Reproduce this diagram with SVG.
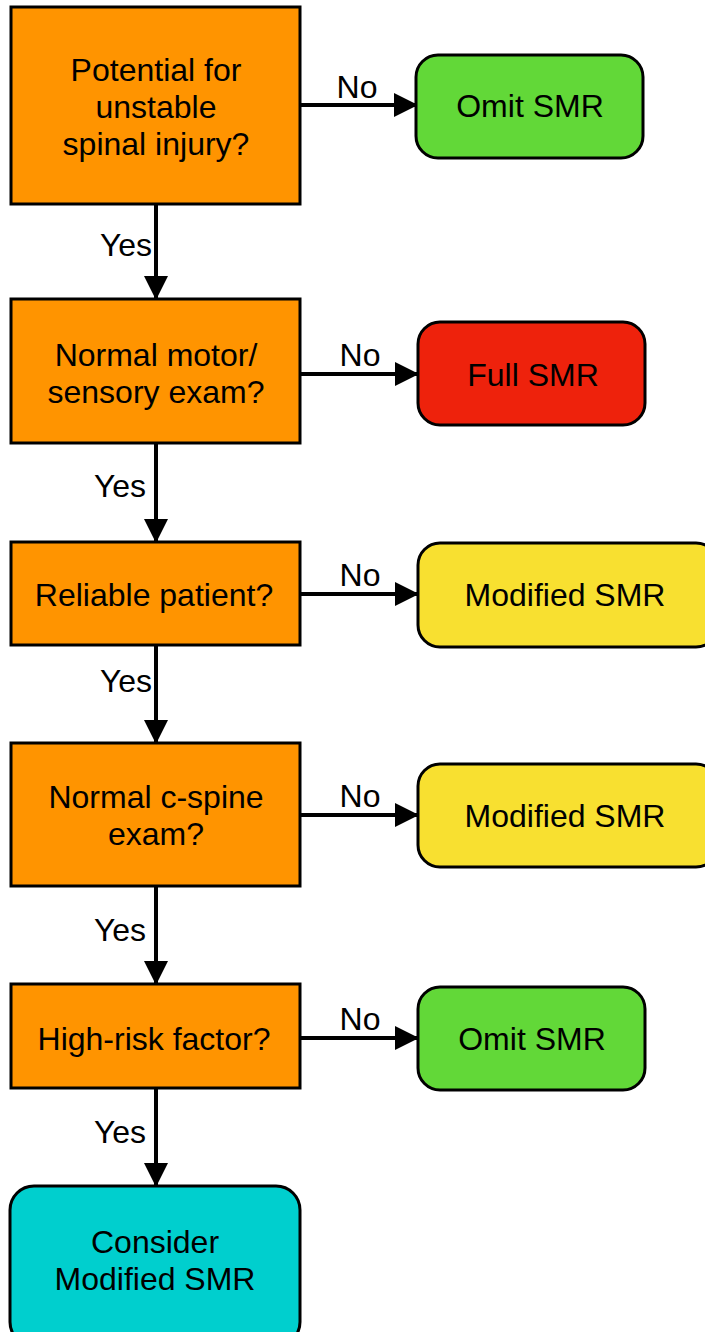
<svg xmlns="http://www.w3.org/2000/svg" width="705" height="1332" viewBox="0 0 705 1332">
<style>
.box{stroke:#000;stroke-width:3}
.q{fill:#FF9400}
.green{fill:#62D838}
.red{fill:#EE220C}
.yellow{fill:#F8E030}
.cyan{fill:#00CFCE}
text{font-family:"Liberation Sans",Arial,sans-serif;font-size:32px;fill:#000;text-anchor:middle}
.conn line{stroke:#000;stroke-width:4}
</style>
<defs>
<marker id="ah" markerWidth="6" markerHeight="6" refX="5.5" refY="3" orient="auto" markerUnits="strokeWidth" viewBox="0 0 6 6">
<path d="M0,0 L6,3 L0,6 Z" fill="#000"/>
</marker>
</defs>
<rect width="705" height="1332" fill="#fff"/>
<g class="conn">
<line x1="300" y1="105" x2="416" y2="105" marker-end="url(#ah)"/>
<line x1="300" y1="374" x2="417" y2="374" marker-end="url(#ah)"/>
<line x1="300" y1="594" x2="417" y2="594" marker-end="url(#ah)"/>
<line x1="300" y1="815" x2="417" y2="815" marker-end="url(#ah)"/>
<line x1="300" y1="1038" x2="417" y2="1038" marker-end="url(#ah)"/>
<line x1="156" y1="204" x2="156" y2="298" marker-end="url(#ah)"/>
<line x1="156" y1="443" x2="156" y2="541" marker-end="url(#ah)"/>
<line x1="156" y1="645" x2="156" y2="742" marker-end="url(#ah)"/>
<line x1="156" y1="886" x2="156" y2="983" marker-end="url(#ah)"/>
<line x1="156" y1="1088" x2="156" y2="1185" marker-end="url(#ah)"/>
<text x="357" y="98">No</text>
<text x="360" y="366">No</text>
<text x="360" y="586">No</text>
<text x="360" y="807">No</text>
<text x="360" y="1030">No</text>
<text x="126" y="256">Yes</text>
<text x="120" y="497">Yes</text>
<text x="126" y="692">Yes</text>
<text x="120" y="941">Yes</text>
<text x="120" y="1143">Yes</text>
</g>
<g id="q1">
<rect class="box q" x="11" y="7" width="289" height="197"/>
<text x="156" y="81">Potential for</text>
<text x="156" y="118">unstable</text>
<text x="156" y="155">spinal injury?</text>
</g>
<g id="r1">
<rect class="box green" x="416" y="55" width="227" height="103" rx="22"/>
<text x="530" y="117">Omit SMR</text>
</g>
<g id="q2">
<rect class="box q" x="11" y="299" width="289" height="144"/>
<text x="156" y="366">Normal motor/</text>
<text x="156" y="403">sensory exam?</text>
</g>
<g id="r2">
<rect class="box red" x="418" y="322" width="227" height="103" rx="22"/>
<text x="533" y="386">Full SMR</text>
</g>
<g id="q3">
<rect class="box q" x="11" y="542" width="289" height="103"/>
<text x="154" y="606">Reliable patient?</text>
</g>
<g id="r3">
<rect class="box yellow" x="418" y="543" width="300" height="104" rx="22"/>
<text x="565" y="606">Modified SMR</text>
</g>
<g id="q4">
<rect class="box q" x="11" y="743" width="289" height="143"/>
<text x="156" y="808">Normal c-spine</text>
<text x="156" y="845">exam?</text>
</g>
<g id="r4">
<rect class="box yellow" x="418" y="764" width="300" height="103" rx="22"/>
<text x="565" y="827">Modified SMR</text>
</g>
<g id="q5">
<rect class="box q" x="11" y="984" width="289" height="104"/>
<text x="154" y="1050">High-risk factor?</text>
</g>
<g id="r5">
<rect class="box green" x="418" y="987" width="227" height="103" rx="22"/>
<text x="532" y="1050">Omit SMR</text>
</g>
<g id="end">
<rect class="box cyan" x="10" y="1186" width="290" height="160" rx="24"/>
<text x="155" y="1253">Consider</text>
<text x="155" y="1290">Modified SMR</text>
</g>
</svg>
